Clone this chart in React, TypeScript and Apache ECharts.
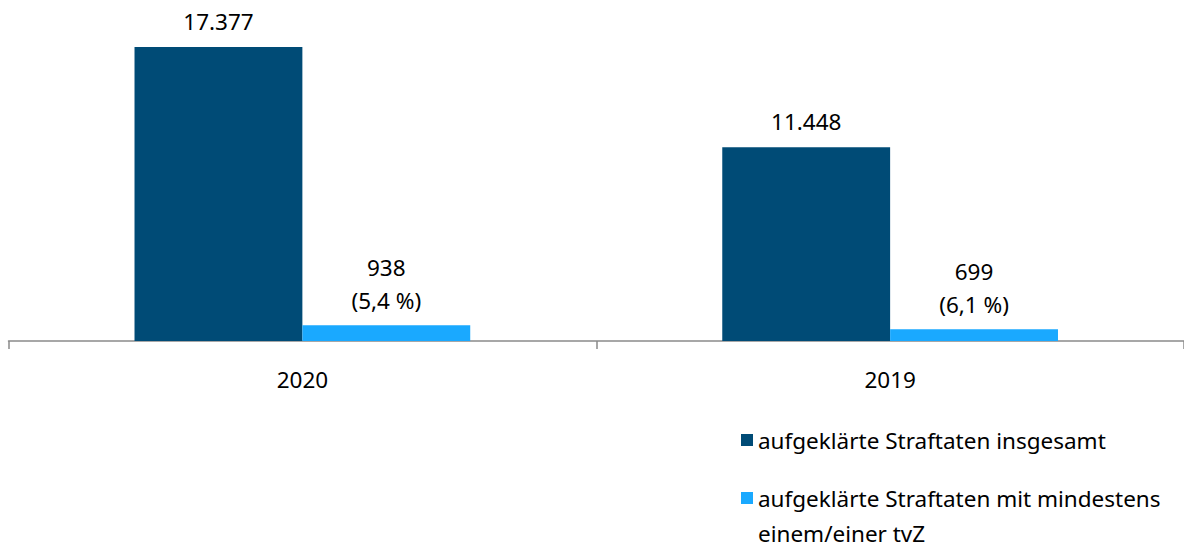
import React, { useEffect, useRef } from "react";
import * as echarts from "echarts";

const categories = ["2020", "2019"];
const totalSolved = [17377, 11448];
const solvedWithTvz = [938, 699];
const tvzPercent = [5.4, 6.1];
const seriesNames = [
  "aufgeklärte Straftaten insgesamt",
  "aufgeklärte Straftaten mit mindestens einem/einer tvZ",
];
const legendSecondLine = "einem/einer tvZ";

const FONT = "Noto Sans";
const FS = 22.5;
const fmtInt = (v: number) => v.toLocaleString("de-DE");
const fmtPct = (v: number) => v.toFixed(1).replace(".", ",") + " %";

export default function App() {
  const ref = useRef<HTMLDivElement>(null);
  useEffect(() => {
    document.body.style.margin = "0";
    const chart = echarts.init(ref.current!, undefined, { renderer: "svg" });
    chart.setOption({
      animation: false,
      textStyle: { fontFamily: FONT },
      grid: { left: 8.5, width: 1180, top: 2.6, height: 338.4, containLabel: false },
      xAxis: {
        type: "category",
        data: categories,
        axisLine: { lineStyle: { color: "#8a8a8a", width: 1.5 } },
        axisTick: { show: true, length: 8, lineStyle: { color: "#8a8a8a", width: 1.5 } },
        axisLabel: { color: "#000", fontSize: FS, fontFamily: FONT, margin: 27 },
      },
      yAxis: {
        type: "value",
        min: 0,
        max: 20000,
        show: false,
        splitLine: { show: false },
      },
      legend: [
        {
          data: [seriesNames[0]],
          left: 741,
          top: 428,
          padding: 0,
          orient: "vertical",
          itemWidth: 12,
          itemHeight: 12,
          icon: "rect",
          textStyle: { fontSize: FS, color: "#000", fontFamily: FONT, lineHeight: 24 },
          selectedMode: false,
        },
        {
          data: [seriesNames[1]],
          left: 741,
          top: 486,
          padding: 0,
          orient: "vertical",
          itemWidth: 12,
          itemHeight: 12,
          icon: "rect",
          formatter: (name: string) => name.replace(" " + legendSecondLine, ""),
          textStyle: { fontSize: FS, color: "#000", fontFamily: FONT, lineHeight: 24 },
          selectedMode: false,
        },
      ],
      graphic: [
        {
          type: "text",
          x: 758,
          y: 533,
          style: {
            text: legendSecondLine,
            fontSize: FS,
            fill: "#000",
            fontFamily: FONT,
            verticalAlign: "middle",
            align: "left",
          },
        },
      ],
      series: [
        {
          name: seriesNames[0],
          type: "bar",
          data: totalSolved,
          barWidth: "28.56%",
          barGap: "0%",
          itemStyle: { color: "#004B76" },
          label: {
            show: true,
            position: "top",
            distance: 9,
            color: "#000",
            fontSize: FS,
            lineHeight: 33,
            fontFamily: FONT,
            formatter: (p: any) => fmtInt(p.value),
          },
        },
        {
          name: seriesNames[1],
          type: "bar",
          data: solvedWithTvz,
          barWidth: "28.56%",
          itemStyle: { color: "#1AA9FF" },
          label: {
            show: true,
            position: "top",
            distance: 8,
            color: "#000",
            fontSize: FS,
            lineHeight: 33,
            fontFamily: FONT,
            formatter: (p: any) => fmtInt(p.value) + "\n(" + fmtPct(tvzPercent[p.dataIndex]) + ")",
          },
        },
      ],
    });
    return () => chart.dispose();
  }, []);
  return <div ref={ref} style={{ width: 1184, height: 552 }} />;
}
